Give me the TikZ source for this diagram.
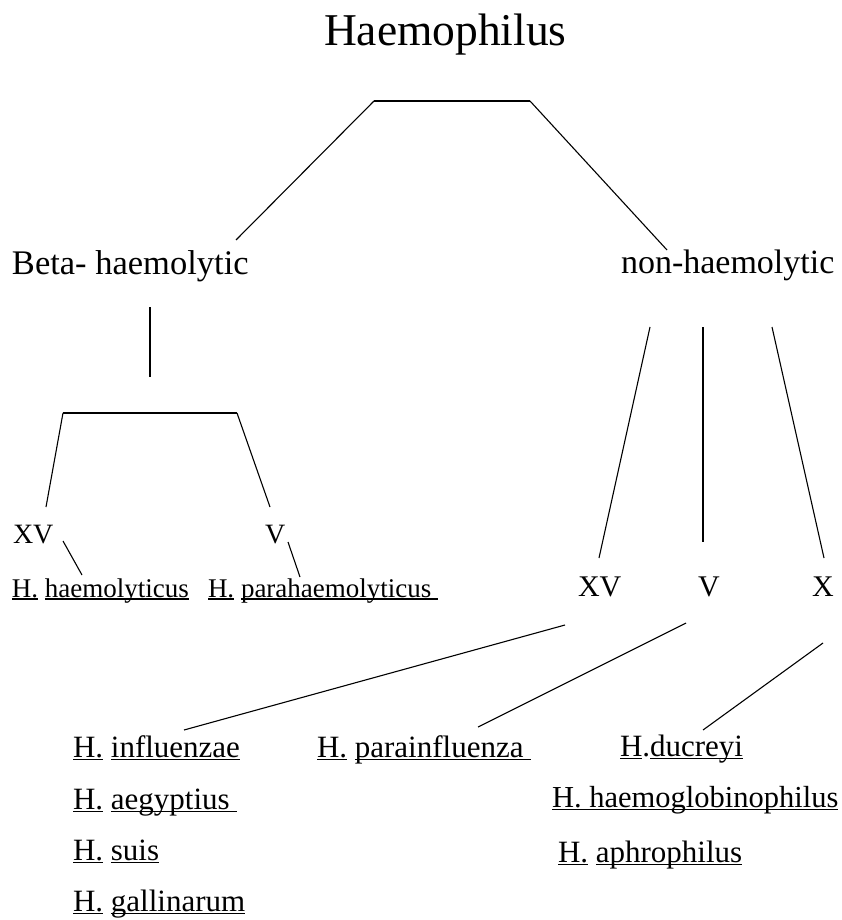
\documentclass[tikz,border=0pt]{standalone}
\usepackage{fontspec}
\setmainfont{Liberation Serif}
\newcommand{\ulx}[1]{\setbox0\hbox{#1}\leavevmode\rlap{\rule[-0.11em]{\wd0}{0.055em}}\box0\relax}
\newcommand{\fs}[1]{\fontsize{#1}{#1}\selectfont}
\begin{document}
\begin{tikzpicture}[x=1pt,y=-1pt,
  lbl/.style={anchor=base west,inner sep=0pt,outer sep=0pt},
  conn/.style={line width=1.1pt},
  bar/.style={line width=1.7pt}]
\useasboundingbox (0,0) rectangle (842,920);
% texts
\node[lbl,font=\fs{45.5}] (title) at (324,46) {Haemophilus};
\node[lbl,font=\fs{34.5}] (beta) at (12,274) {Beta- haemolytic};
\node[lbl,font=\fs{34}] (non) at (621,273) {non-haemolytic};
\node[lbl,font=\fs{28}] (lxv) at (13,543) {XV};
\node[lbl,font=\fs{28}] (lv) at (265,543) {V};
\node[lbl,font=\fs{27}] (hhae) at (12,597) {\ulx{H.} \ulx{haemolyticus}};
\node[lbl,font=\fs{27}] (hpara) at (208,597) {\ulx{H.} \ulx{parahaemolyticus\ }};
\node[lbl,font=\fs{30}] (rxv) at (578,596) {XV};
\node[lbl,font=\fs{30}] (rv) at (698,596) {V};
\node[lbl,font=\fs{30}] (rx) at (812,596) {X};
\node[lbl,font=\fs{31}] (infl) at (73,757) {\ulx{H.} \ulx{influenzae}};
\node[lbl,font=\fs{31}] (aeg) at (73,809) {\ulx{H.} \ulx{aegyptius\ }};
\node[lbl,font=\fs{31}] (suis) at (73,860) {\ulx{H.} \ulx{suis}};
\node[lbl,font=\fs{31}] (gall) at (73,911) {\ulx{H.} \ulx{gallinarum}};
\node[lbl,font=\fs{31}] (pinf) at (317,757) {\ulx{H.} \ulx{parainfluenza\ }};
\node[lbl,font=\fs{31}] (duc) at (620,756) {\ulx{H}.\ulx{ducreyi}};
\node[lbl,font=\fs{30.5}] (hglob) at (552,807) {\ulx{H. haemoglobinophilus}};
\node[lbl,font=\fs{31}] (aphr) at (558,862) {\ulx{H.} \ulx{aphrophilus}};
% junction coordinates
\coordinate (tl) at (374,101);
\coordinate (tr) at (530,101);
\coordinate (betatop) at (236,240);
\coordinate (nontop) at (667,250);
\coordinate (bv1) at (150,307);
\coordinate (bv2) at (150,377);
\coordinate (bl) at (63,413);
\coordinate (br) at (237,413);
\coordinate (lxvtop) at (46,507);
\coordinate (lvtop) at (270,507);
\coordinate (lxvend) at (63,541);
\coordinate (hhaetop) at (82,575);
\coordinate (lvend) at (288,542);
\coordinate (hparatop) at (300,577);
\coordinate (n1) at (650,327);
\coordinate (n2) at (703,327);
\coordinate (n3) at (772,327);
\coordinate (rxvtop) at (599,558);
\coordinate (rvtop) at (703,542);
\coordinate (rxtop) at (824,558);
\coordinate (rxvbot) at (565,625);
\coordinate (rvbot) at (686,623);
\coordinate (rxbot) at (823,643);
\coordinate (infltop) at (184,730);
\coordinate (pinftop) at (478,727);
\coordinate (ductop) at (703,730);
% connectors
\draw[bar] (tl) -- (tr);
\draw[conn] (tl) -- (betatop);
\draw[conn] (tr) -- (nontop);
\draw[bar] (bv1) -- (bv2);
\draw[bar] (bl) -- (br);
\draw[conn] (bl) -- (lxvtop);
\draw[conn] (br) -- (lvtop);
\draw[conn] (lxvend) -- (hhaetop);
\draw[conn] (lvend) -- (hparatop);
\draw[conn] (n1) -- (rxvtop);
\draw[bar] (n2) -- (rvtop);
\draw[conn] (n3) -- (rxtop);
\draw[conn] (rxvbot) -- (infltop);
\draw[conn] (rvbot) -- (pinftop);
\draw[conn] (rxbot) -- (ductop);
\end{tikzpicture}
\end{document}
